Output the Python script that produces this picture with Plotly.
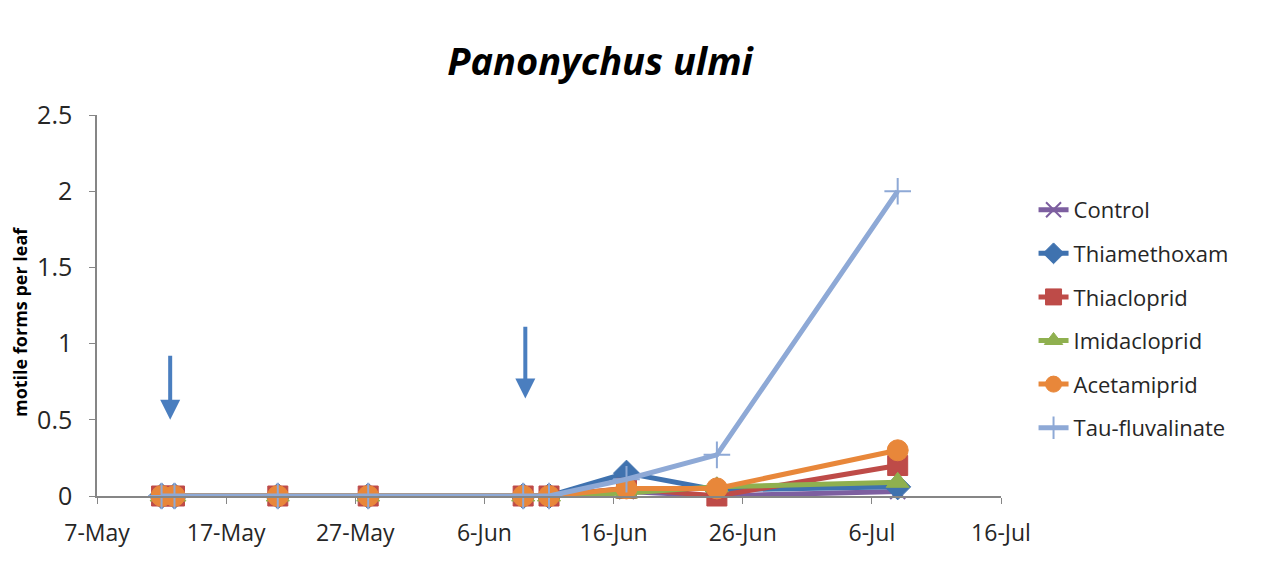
import plotly.graph_objects as go

# ---- data ----
dates = ["2011-05-12", "2011-05-13", "2011-05-21", "2011-05-28", "2011-06-09",
         "2011-06-11", "2011-06-17", "2011-06-24", "2011-07-08"]
control = [0, 0, 0, 0, 0, 0, 0.03, 0.00, 0.03]
thiamethoxam = [0, 0, 0, 0, 0, 0, 0.15, 0.04, 0.06]
thiacloprid = [0, 0, 0, 0, 0, 0, 0.05, 0.00, 0.20]
imidacloprid = [0, 0, 0, 0, 0, 0, 0.02, 0.06, 0.09]
acetamiprid = [0, 0, 0, 0, 0, 0, 0.05, 0.05, 0.30]
tau_fluvalinate = [0, 0, 0, 0, 0, 0, 0.11, 0.27, 2.00]

tick_dates = ["2011-05-07", "2011-05-17", "2011-05-27", "2011-06-06",
              "2011-06-16", "2011-06-26", "2011-07-06", "2011-07-16"]
tick_labels = ["7-May", "17-May", "27-May", "6-Jun", "16-Jun", "26-Jun", "6-Jul", "16-Jul"]

# treatment arrows (date, tip value, tail value)
arrow_dates = ["2011-05-12 16:00", "2011-06-09 04:00"]
arrow_tips = [0.50, 0.64]
arrow_tails = [0.93, 1.12]

series = [
    ("Control", control, "#7D5FA0", "x-thin", 15),
    ("Thiamethoxam", thiamethoxam, "#3F72AF", "diamond", 20),
    ("Thiacloprid", thiacloprid, "#BE4B48", "square", 20),
    ("Imidacloprid", imidacloprid, "#8FB04F", "triangle-up", 20),
    ("Acetamiprid", acetamiprid, "#E8873A", "circle", 21),
    ("Tau-fluvalinate", tau_fluvalinate, "#8EA9D6", "cross-thin", 19),
]

fig = go.Figure()
for i, (name, vals, color, sym, size) in enumerate(series):
    thin = sym.endswith("thin")
    fig.add_trace(go.Scatter(
        x=dates, y=vals, name=name, mode="lines+markers",
        legendgroup=f"g{i}", cliponaxis=False,
        line=dict(color=color, width=5),
        marker=dict(symbol=sym, size=size, color=color,
                    line=dict(color=color, width=2 if thin else 1)),
    ))

for d, tip, tail in zip(arrow_dates, arrow_tips, arrow_tails):
    fig.add_annotation(x=d, y=tip, ax=d, ay=tail, xref="x", yref="y",
                       axref="x", ayref="y", showarrow=True, text="",
                       arrowhead=2, arrowsize=1.0, arrowwidth=4,
                       arrowcolor="#4A7EBF")

fig.add_annotation(text="<b>motile forms per leaf</b>", xref="paper", yref="paper",
                   x=-0.085, y=0.457, textangle=-90, showarrow=False,
                   xanchor="center", yanchor="middle",
                   font=dict(size=18, color="black", family="Open Sans"))

fig.update_layout(
    width=1265, height=586,
    paper_bgcolor="white", plot_bgcolor="white",
    margin=dict(l=89, r=272, t=107, b=98, autoexpand=False),
    title=dict(text="<b><i>Panonychus ulmi</i></b>", x=0.468, xanchor="center",
               y=0.908, yanchor="middle",
               font=dict(size=38, color="black", family="Open Sans")),
    font=dict(family="Open Sans", size=18, color="#404040"),
    showlegend=True,
    legend=dict(x=1.036, xanchor="left", y=0.806, yanchor="top",
                font=dict(size=22, color="#262626", family="Open Sans"),
                tracegroupgap=12, bgcolor="rgba(0,0,0,0)"),
    xaxis=dict(type="date", range=["2011-05-07", "2011-07-16"],
               tickmode="array", tickvals=tick_dates, ticktext=tick_labels,
               showline=True, linecolor="#868686", linewidth=1.5,
               ticks="outside", ticklen=6, tickcolor="#868686",
               showgrid=False, zeroline=False, automargin=False,
               ticklabelstandoff=10,
               tickfont=dict(size=23, color="#262626")),
    yaxis=dict(range=[0, 2.5], dtick=0.5, showline=True, linecolor="#868686",
               linewidth=1.5, ticks="outside", ticklen=6, tickcolor="#868686",
               showgrid=False, zeroline=False, ticklabelstandoff=12,
               automargin=False,
               tickfont=dict(size=25, color="#262626")),
)

fig.write_html("out.html")
